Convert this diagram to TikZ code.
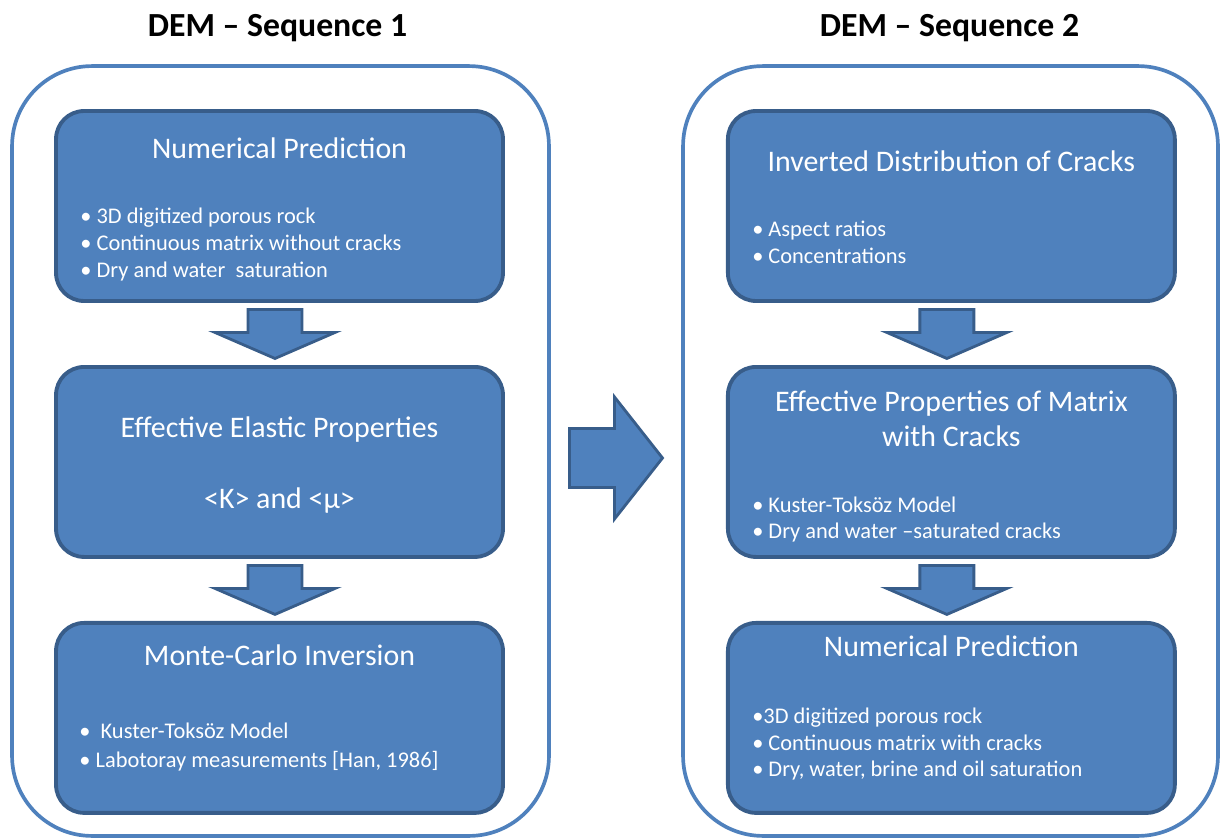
\documentclass[tikz,border=0pt]{standalone}
\usepackage{fontspec}
\setmainfont{Carlito}
\usetikzlibrary{positioning,calc}
\definecolor{demblue}{RGB}{79,129,189}
\definecolor{demdark}{RGB}{56,93,138}

\begin{document}
\begin{tikzpicture}[
    x=0.02cm, y=-0.02cm,
    node distance=1.32cm,
    seqframe/.style={rectangle,rounded corners=1.6cm,draw=demblue,line width=2.1pt,
      minimum width=10.74cm,minimum height=15.4cm,inner sep=0pt},
    stagebox/.style={rectangle,rounded corners=0.56cm,draw=demdark,fill=demblue,line width=2.2pt,
      minimum width=8.94cm,minimum height=3.8cm,inner sep=0pt,outer sep=0pt},
    seqtitle/.style={font=\fontsize{19.2}{23}\selectfont\bfseries,inner sep=0pt,anchor=base},
    boxtitle/.style={font=\fontsize{17}{20.4}\selectfont,text=white,inner sep=0pt,anchor=base,align=center},
    bullets/.style={font=\fontsize{12.75}{15.3}\selectfont,text=white,inner sep=0pt,anchor=base west,align=left},
    blockarrow/.style={draw=demdark,fill=demblue,line width=1.6pt,line join=miter}
  ]
    \useasboundingbox (0,0) rectangle (1220,838);

    % the two sequences
    \node[seqframe] (seq1) at (280.5,451) {};
    \node[seqframe,minimum width=10.7cm] (seq2) at (950.5,451) {};
    \node[seqtitle] (seq1t) at ($(seq1.north)+(-3,-28)$) {DEM – Sequence 1};
    \node[seqtitle] (seq2t) at ($(seq2.north)+(-1,-28)$) {DEM – Sequence 2};

    % sequence 1
    \node[stagebox] (num1) at (279.5,206) {};
    \node[stagebox,below=of num1] (eff1) {};
    \node[stagebox,below=of eff1] (mc1) {};

    % sequence 2
    \node[stagebox,right=4.5cm of num1] (inv2) {};
    \node[stagebox,below=of inv2] (eff2) {};
    \node[stagebox,below=of eff2] (num2) {};

    % texts (a list is anchored at its last line)
    \node[boxtitle] (num1t) at ($(num1.north)+(0,47)$) {Numerical Prediction};
    \node[bullets] (num1b) at ($(num1.north west)+(24,166)$)
      {\textbullet\ 3D digitized porous rock\\
       \textbullet\ Continuous matrix without cracks\\
       \textbullet\ Dry and water~ saturation};

    \node[boxtitle] (eff1t) at ($(eff1.north)+(0,71)$) {Effective Elastic Properties};
    \node[boxtitle] (eff1k) at ($(eff1.north)+(0,142)$) {<K> and <μ>};

    \node[boxtitle] (mc1t) at ($(mc1.north)+(0,43)$) {Monte-Carlo Inversion};
    \node[bullets,font=\fontsize{12.75}{17}\selectfont] (mc1b) at ($(mc1.north west)+(23,145)$)
      {\textbullet~ Kuster-Toksöz Model\\
       \textbullet\ Labotoray measurements [Han, 1986]};

    \node[boxtitle] (inv2t) at ($(inv2.north)+(0,60)$) {Inverted Distribution of Cracks};
    \node[bullets] (inv2b) at ($(inv2.north west)+(24,152)$)
      {\textbullet\ Aspect ratios\\
       \textbullet\ Concentrations};

    \node[boxtitle] (eff2t) at ($(eff2.north)+(0,80)$) {Effective Properties of Matrix\\with Cracks};
    \node[bullets] (eff2b) at ($(eff2.north west)+(24,172)$)
      {\textbullet\ Kuster-Toksöz Model\\
       \textbullet\ Dry and water –saturated cracks};

    \node[boxtitle] (num2t) at ($(num2.north)+(0,34)$) {Numerical Prediction};
    \node[bullets] (num2b) at ($(num2.north west)+(24,154)$)
      {\textbullet 3D digitized porous rock\\
       \textbullet\ Continuous matrix with cracks\\
       \textbullet\ Dry, water, brine and oil saturation};

    % block arrows
    \coordinate (d1) at ($(num1.south)!0.5!(eff1.north)$);
    \coordinate (d2) at ($(eff1.south)!0.5!(mc1.north)$);
    \coordinate (d3) at ($(inv2.south)!0.5!(eff2.north)$);
    \coordinate (d4) at ($(eff2.south)!0.5!(num2.north)$);
    \foreach \a in {d1,d2,d3,d4}
      \draw[blockarrow] (\a) ++(-31.5,-24.5) -- ++(54,0) -- ++(0,23) -- ++(33,0)
        -- ++(-60,26) -- ++(-60,-26) -- ++(33,0) -- cycle;

    \coordinate (mid) at ($(seq1.east)!0.5!(seq2.west)+(0,7)$);
    \draw[blockarrow] (mid) ++(-46.5,-29.5) -- ++(45,0) -- ++(0,-31.5) -- ++(48,61)
      -- ++(-48,61) -- ++(0,-31.5) -- ++(-45,0) -- cycle;
\end{tikzpicture}
\end{document}
